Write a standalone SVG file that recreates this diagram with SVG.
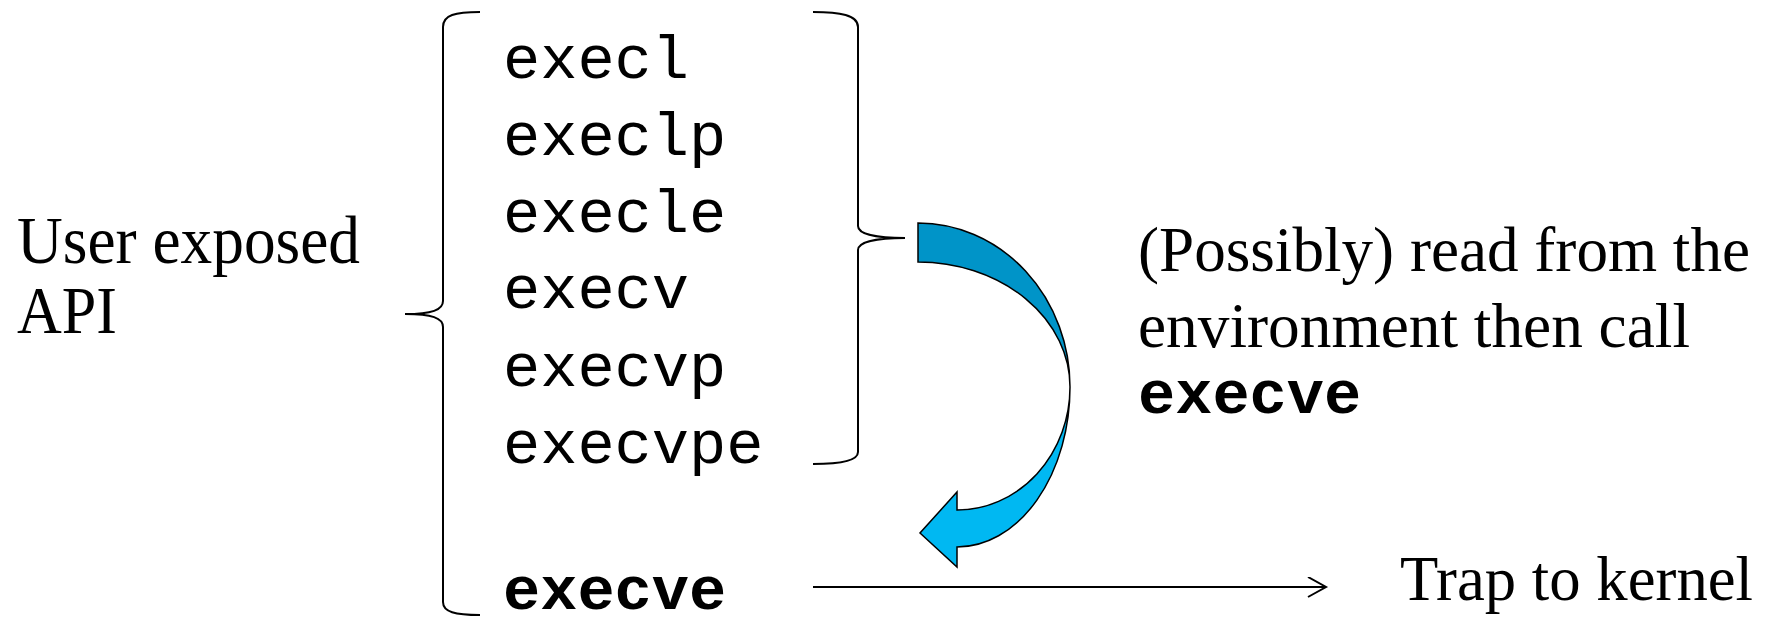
<svg xmlns="http://www.w3.org/2000/svg" width="1769" height="618" viewBox="0 0 1769 618">
  <style>
    .mono { font-family: "Liberation Mono", "Courier New", monospace; font-size: 62px; fill: #000; }
    .bold { font-weight: bold; }
    .serif { font-family: "Liberation Serif", "Times New Roman", serif; font-size: 68px; fill: #000; }
    .serif-r { font-family: "Liberation Serif", "Times New Roman", serif; font-size: 64px; fill: #000; }
    .brace { fill: none; stroke: #000; stroke-width: 2; }
    .conn { fill: none; stroke: #000; stroke-width: 2; }
    .ribbon { stroke: #000; stroke-width: 1.5; stroke-linejoin: miter; }
  </style>
  <defs>
    <marker id="openArrow" markerWidth="24" markerHeight="24" refX="20" refY="10" orient="auto" markerUnits="userSpaceOnUse">
      <polyline points="2,0 20,10 2,20" fill="none" stroke="#000" stroke-width="2"/>
    </marker>
  </defs>
  <rect width="1769" height="618" fill="#fff"/>

  <g id="user-api-label">
    <text class="serif" x="17" y="263" textLength="343" lengthAdjust="spacingAndGlyphs">User exposed</text>
    <text class="serif" x="17" y="333" textLength="100" lengthAdjust="spacingAndGlyphs">API</text>
  </g>

  <g id="left-brace">
    <path class="brace" d="M480,12 C455,12 443,15 443,27 L443,301 C443,310 432,314 405,314 C432,314 443,318 443,327 L443,602 C443,612 455,615 480,615"/>
  </g>

  <g id="right-brace">
    <path class="brace" d="M813,12 C840,12 858,15 858,27 L858,226 C858,234 876,238 905,238 C876,238 858,242 858,250 L858,452 C858,461 840,464 813,464"/>
  </g>

  <g id="exec-list">
    <text class="mono" x="503" y="78">execl</text>
    <text class="mono" x="503" y="155">execlp</text>
    <text class="mono" x="503" y="232">execle</text>
    <text class="mono" x="503" y="308">execv</text>
    <text class="mono" x="503" y="386">execvp</text>
    <text class="mono" x="503" y="463">execvpe</text>
  </g>

  <g id="execve-node">
    <text class="mono bold" x="503" y="609">execve</text>
  </g>

  <g id="env-note">
    <text class="serif-r" x="1138" y="271" textLength="612" lengthAdjust="spacingAndGlyphs">(Possibly) read from the</text>
    <text class="serif-r" x="1138" y="347" textLength="552" lengthAdjust="spacingAndGlyphs">environment then call</text>
    <text class="mono bold" x="1138" y="413">execve</text>
  </g>

  <g id="trap-label">
    <text class="serif-r" x="1400" y="600" textLength="353" lengthAdjust="spacingAndGlyphs">Trap to kernel</text>
  </g>

  <g id="connectors">
    <g id="curved-arrow">
      <path class="ribbon" fill="#0094C8" d="M918,223 A152,164 0 0 1 1070,387 A152,125 0 0 0 918,262 Z"/>
      <path class="ribbon" fill="#00B8F2" d="M1070,387 A113,160 0 0 1 957,547 L957,567 L920,533 L957,492 L957,510 A113,123 0 0 0 1070,387 Z"/>
    </g>
    <line class="conn" x1="813" y1="587" x2="1326" y2="587" marker-end="url(#openArrow)"/>
  </g>
</svg>
